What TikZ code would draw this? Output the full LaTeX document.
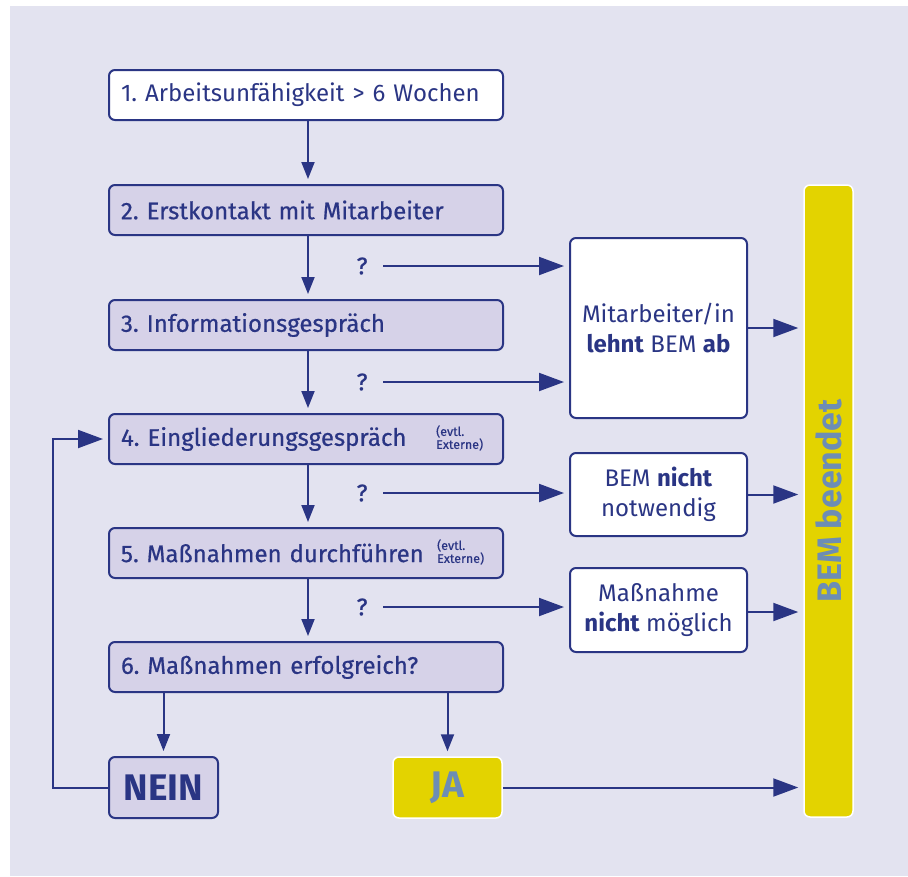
\documentclass[tikz,border=0pt]{standalone}
\usepackage{fontspec}
\setmainfont{Fira Sans}
\newfontfamily\medfont[FakeBold=0.6]{Fira Sans}
\usetikzlibrary{arrows.meta}
\frenchspacing

\definecolor{bemgrund}{HTML}{E3E3F0}
\definecolor{bemlila}{HTML}{D6D2E8}
\definecolor{bemblau}{HTML}{2A3584}
\definecolor{bemgelb}{HTML}{E3D300}
\definecolor{bemgrau}{HTML}{6D8DB4}

\tikzset{
  stufe/.style={draw=bemblau, line width=2pt, fill=bemlila, rounded corners=6pt,
    minimum width=394pt, minimum height=50pt, text width=370pt, inner xsep=12pt,
    align=left, text=bemblau, font=\medfont\fontsize{24}{28}\selectfont},
  startstufe/.style={stufe, fill=white, font=\fontsize{24}{28}\selectfont},
  ende/.style={draw=bemblau, line width=2pt, fill=white, rounded corners=6pt,
    minimum width=177pt, align=center, text=bemblau,
    font=\fontsize{24}{30}\selectfont},
  gelb/.style={draw=white, line width=1.5pt, fill=bemgelb, rounded corners=6pt,
    text=bemgrau, font=\bfseries},
  pfeil/.style={draw=bemblau, line width=2pt, shorten >=5pt,
    -{Triangle[length=25pt,width=18pt]}},
  pfeilab/.style={draw=bemblau, line width=2pt, shorten >=5pt,
    -{Triangle[length=17pt,width=13pt]}},
  frage/.style={text=bemblau, font=\medfont\fontsize{24}{28}\selectfont},
  extern/.style={text=bemblau, align=left, inner sep=0pt,
    font=\medfont\fontsize{12.5}{13}\selectfont}
}

\begin{document}
\begin{tikzpicture}[x=1pt,y=-1pt]
  \useasboundingbox (0,0) rectangle (908,876);
  % Hintergrund
  \fill[bemgrund] (10,6) rectangle (908,876);

  % Schritte
  \node[startstufe] (s1) at (306,95) {1. Arbeitsunfähigkeit > 6 Wochen};
  \node[stufe] (s2) at (306,210) {2. Erstkontakt mit Mitarbeiter};
  \node[stufe] (s3) at (306,325) {3. Informationsgespräch};
  \node[stufe] (s4) at (306,439) {4. Eingliederungsgespräch};
  \node[stufe] (s5) at (306,553) {5. Maßnahmen durchführen};
  \node[stufe] (s6) at (306,667) {6. Maßnahmen erfolgreich?};
  \node[extern, anchor=west] (e4) at (436,438) {(evtl.\\Externe)};
  \node[extern, anchor=west] (e5) at (437,552) {(evtl.\\Externe)};

  % Antworten
  \node[stufe, minimum width=109pt, minimum height=61pt, text width=, align=center,
    inner xsep=0pt, font=\bfseries\fontsize{37}{40}\selectfont] (nein) at (163.5,787.5) {NEIN};
  \node[gelb, minimum width=109pt, minimum height=61pt,
    font=\bfseries\fontsize{37}{40}\selectfont] (ja) at (447.5,787.5) {JA};

  % Abbrueche
  \node[ende, minimum height=180pt] (ab) at (658.5,328)
    {Mitarbeiter/in\\\textbf{lehnt} BEM \textbf{ab}};
  \node[ende, minimum height=83pt] (nn) at (658.5,494.5)
    {BEM \textbf{nicht}\\notwendig};
  \node[ende, minimum height=84pt] (nm) at (658.5,610)
    {Maßnahme\\\textbf{nicht} möglich};
  \node[gelb, minimum width=49pt, minimum height=632pt] (bem) at (828.5,501) {};
  \node[text=bemgrau, rotate=90, font=\bfseries\fontsize{34}{38}\selectfont] (bemtext) at (bem) {BEM beendet};

  % Fragen
  \node[frage] (f1) at (362,266) {?};
  \node[frage] (f2) at (362,382) {?};
  \node[frage] (f3) at (362,493) {?};
  \node[frage] (f4) at (362,607) {?};

  % Pfeile nach unten
  \draw[pfeilab] ([xshift=2pt]s1.south) -- ([xshift=2pt]s2.north);
  \draw[pfeilab] ([xshift=2pt]s2.south) -- ([xshift=2pt]s3.north);
  \draw[pfeilab] ([xshift=2pt]s3.south) -- ([xshift=2pt]s4.north);
  \draw[pfeilab] ([xshift=2pt]s4.south) -- ([xshift=2pt]s5.north);
  \draw[pfeilab] ([xshift=2pt]s5.south) -- ([xshift=2pt]s6.north);
  \draw[pfeilab] (s6.south -| nein) -- (nein.north);
  \draw[pfeilab] (s6.south -| ja) -- (ja.north);

  % Pfeile nach rechts
  \draw[pfeil] ([xshift=12pt]f1.east) -- (f1 -| ab.west);
  \draw[pfeil] ([xshift=12pt]f2.east) -- (f2 -| ab.west);
  \draw[pfeil] ([xshift=12pt]f3.east) -- (f3 -| nn.west);
  \draw[pfeil] ([xshift=12pt]f4.east) -- (f4 -| nm.west);
  \draw[pfeil] (ab.east) -- (ab -| bem.west);
  \draw[pfeil] (nn.east) -- (nn -| bem.west);
  \draw[pfeil] ([yshift=-2pt]nm.east) -- ([yshift=-2pt]nm -| bem.west);
  \draw[pfeil] (ja.east) -- (ja -| bem.west);

  % Rueckweg
  \draw[pfeil] (nein.west) -- ++(-55,0) |- (s4.west);
\end{tikzpicture}
\end{document}
